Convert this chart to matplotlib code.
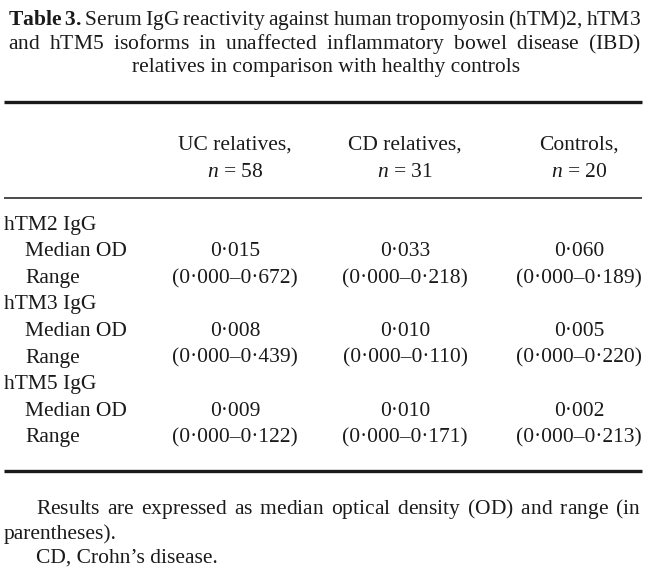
import matplotlib
matplotlib.use("Agg")
import matplotlib.pyplot as plt

plt.rcParams['font.family'] = 'Liberation Serif'
plt.rcParams['mathtext.fontset'] = 'custom'
plt.rcParams['mathtext.rm'] = 'Liberation Serif'
plt.rcParams['mathtext.it'] = 'Liberation Serif:italic'
plt.rcParams['mathtext.bf'] = 'Liberation Serif:bold'

# ---- data ----
groups = ["UC relatives,", "CD relatives,", "Controls,"]
group_n = [58, 31, 20]
isoforms = ["hTM2 IgG", "hTM3 IgG", "hTM5 IgG"]
median_od = [["0·015", "0·033", "0·060"],
             ["0·008", "0·010", "0·005"],
             ["0·009", "0·010", "0·002"]]
ranges = [["(0·000–0·672)", "(0·000–0·218)", "(0·000–0·189)"],
          ["(0·000–0·439)", "(0·000–0·110)", "(0·000–0·220)"],
          ["(0·000–0·122)", "(0·000–0·171)", "(0·000–0·213)"]]
title_bold = "Table 3."
title_lines = ["Serum IgG reactivity against human tropomyosin (hTM)2, hTM3",
               "and hTM5 isoforms in unaffected inflammatory bowel disease (IBD)",
               "relatives in comparison with healthy controls"]
foot_lines = ["Results are expressed as median optical density (OD) and range (in",
              "parentheses).",
              "CD, Crohn’s disease."]

W, H = 655, 575
INK = '#1a1a1a'
fig = plt.figure(figsize=(W / 100, H / 100), dpi=100)
ax = fig.add_axes([0, 0, 1, 1])
ax.set_xlim(0, W)
ax.set_ylim(H, 0)
ax.axis('off')

FS = 15.5
TFS = 15.5
col_x = [235, 405, 579]
fig.canvas.draw()
renderer = fig.canvas.get_renderer()


def text_width(s, fs):
    t = ax.text(0, 0, s, fontsize=fs)
    w = t.get_window_extent(renderer).width
    t.remove()
    return w


def build(words, spaces, n_bold):
    parts = []
    for i, w in enumerate(words):
        cmd = r"\mathbf" if i < n_bold else r"\mathrm"
        parts.append(cmd + "{" + w + "}")
        if i < len(words) - 1:
            parts.append(r"\hspace{%.4f}" % spaces[i])
    return "$" + "".join(parts) + "$"


def justify(words, x0, x1, y, fs, n_bold=0):
    # unit of \hspace in pixels
    u = (text_width(r"$\mathrm{a}\hspace{10}\mathrm{a}$", fs)
         - text_width(r"$\mathrm{aa}$", fs)) / 10.0
    punct = [w[-1] in ".,;" for w in words[:-1]]
    base = [(-0.2 if p else 0.0) for p in punct]
    s_nat = text_width(build(words, base, n_bold), fs)
    G = (x1 - x0 - s_nat) / (len(words) - 1)
    spaces = [b + G / u for b in base]
    ax.text(x0, y, build(words, spaces, n_bold), fontsize=fs,
            ha='left', va='baseline', color=INK)


# title
justify(title_bold.split() + title_lines[0].split(), 8, 641, 25, TFS, n_bold=2)
justify(title_lines[1].split(), 8, 641, 48.5, TFS)
ax.text(326, 72, title_lines[2], fontsize=TFS, ha='center', va='baseline', color=INK)

# rules
ax.plot([4, 642], [102, 102], color=INK, lw=2.4, solid_capstyle='butt')
ax.plot([4, 642], [197.5, 197.5], color=INK, lw=1.1, solid_capstyle='butt')
ax.plot([4, 642], [471, 471], color=INK, lw=2.4, solid_capstyle='butt')

# header
for cx, g, n in zip(col_x, groups, group_n):
    ax.text(cx, 150, g, fontsize=FS, ha='center', va='baseline', color=INK)
    ax.text(cx, 177, r"$n$ = " + str(n), fontsize=FS, ha='center', va='baseline', color=INK)

# body
y0 = 230
step = 26.5
for i, iso in enumerate(isoforms):
    yb = y0 + 3 * i * step
    ax.text(4, yb, iso, fontsize=FS, ha='left', va='baseline', color=INK)
    ax.text(25, yb + step, "Median OD", fontsize=FS, ha='left', va='baseline', color=INK)
    ax.text(25, yb + 2 * step, "Range", fontsize=FS, ha='left', va='baseline', color=INK)
    for j, cx in enumerate(col_x):
        ax.text(cx, yb + step, median_od[i][j], fontsize=FS, ha='center', va='baseline',
                color=INK)
        ax.text(cx, yb + 2 * step, ranges[i][j], fontsize=FS, ha='center', va='baseline',
                color=INK)

# footnotes
justify(foot_lines[0].split(), 36, 641, 514, FS)
ax.text(4, 538.5, foot_lines[1], fontsize=FS, ha='left', va='baseline', color=INK)
ax.text(36, 563, foot_lines[2], fontsize=FS, ha='left', va='baseline', color=INK)

fig.savefig("out.png", dpi=100, facecolor='white')
